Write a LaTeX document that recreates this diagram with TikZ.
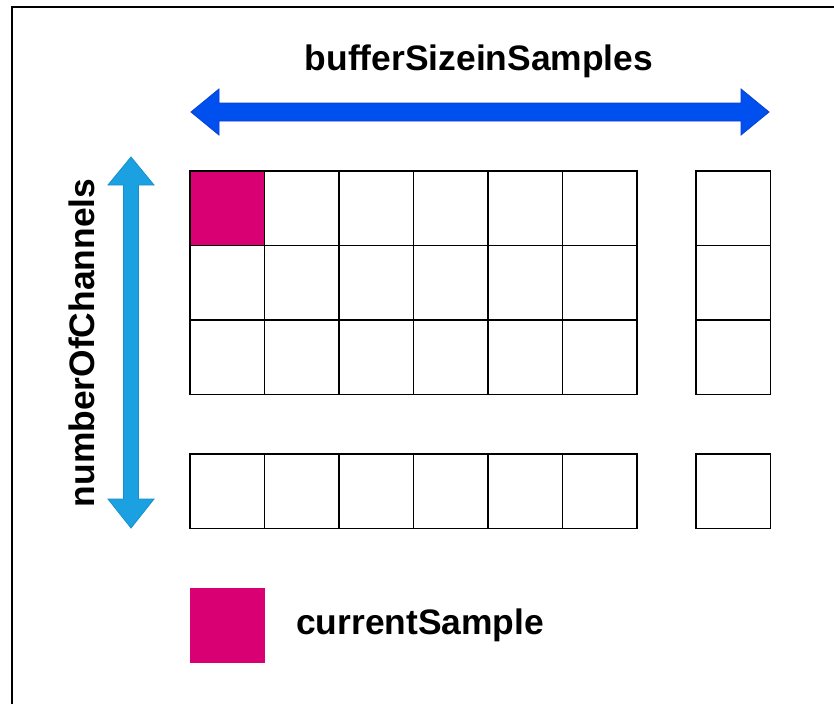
\documentclass[tikz,border=0pt]{standalone}
\usepackage{fontspec}
\setmainfont{Liberation Sans}
\definecolor{cellpink}{HTML}{D80073}
\definecolor{hblue}{HTML}{0050EF}
\definecolor{hblueline}{HTML}{0A3FD0}
\definecolor{vblue}{HTML}{1BA1E2}
\definecolor{vblueline}{HTML}{1690CC}
\begin{document}
\begin{tikzpicture}[x=1pt,y=-1pt,
  cell/.style={draw=black,line width=1.3pt,minimum width=74.5pt,minimum height=74.5pt,inner sep=0pt,outer sep=0pt,anchor=north west},
  label/.style={font=\fontsize{35.4}{40}\selectfont\bfseries,inner sep=0pt}]
\useasboundingbox (0,0) rectangle (834,704);
\fill[white] (0,0) rectangle (834,704);
% frame (left and top visible)
\draw[line width=2pt,black] (11.5,704) -- (11.5,7) -- (834,7);
% grid
\foreach \c/\x in {1/190,2/264.5,3/339,4/413.5,5/488,6/562.5}{
  \foreach \r/\y in {1/171,2/245.5,3/320}{
    \node[cell] (c\r\c) at (\x,\y) {};
  }
  \node[cell] (c4\c) at (\x,454) {};
}
\foreach \r/\y in {1/171,2/245.5,3/320}{
  \node[cell] (c\r7) at (696,\y) {};
}
\node[cell] (c47) at (696,454) {};
\node[cell,fill=cellpink] (c11) at (190,171) {};
% legend
\node[cell,fill=cellpink,draw=none] (legend) at (190,588) {};
\node[label,anchor=base west] (legtext) at (296,634) {currentSample};
% titles
\node[label,anchor=base] (title) at (479,70) {bufferSizeinSamples};
\node[label,rotate=90] (chan) at (82,343) {numberOfChannels};
% horizontal double arrow
\coordinate (hl) at (191,112);
\coordinate (hr) at (769,112);
\filldraw[fill=hblue,draw=hblueline,line width=0.8pt,line join=miter]
  (hl) -- ++(28,-23) -- ++(0,14) -- (741,103) -- (741,89) -- (hr)
  -- (741,135) -- (741,121) -- (219,121) -- (219,135) -- cycle;
% vertical double arrow
\coordinate (vt) at (131,157);
\coordinate (vb) at (131,528);
\filldraw[fill=vblue,draw=vblueline,line width=0.8pt,line join=miter]
  (vt) -- (154,185) -- (138.5,185) -- (138.5,499) -- (154,499) -- (vb)
  -- (108,499) -- (123.5,499) -- (123.5,185) -- (108,185) -- cycle;
\end{tikzpicture}
\end{document}
